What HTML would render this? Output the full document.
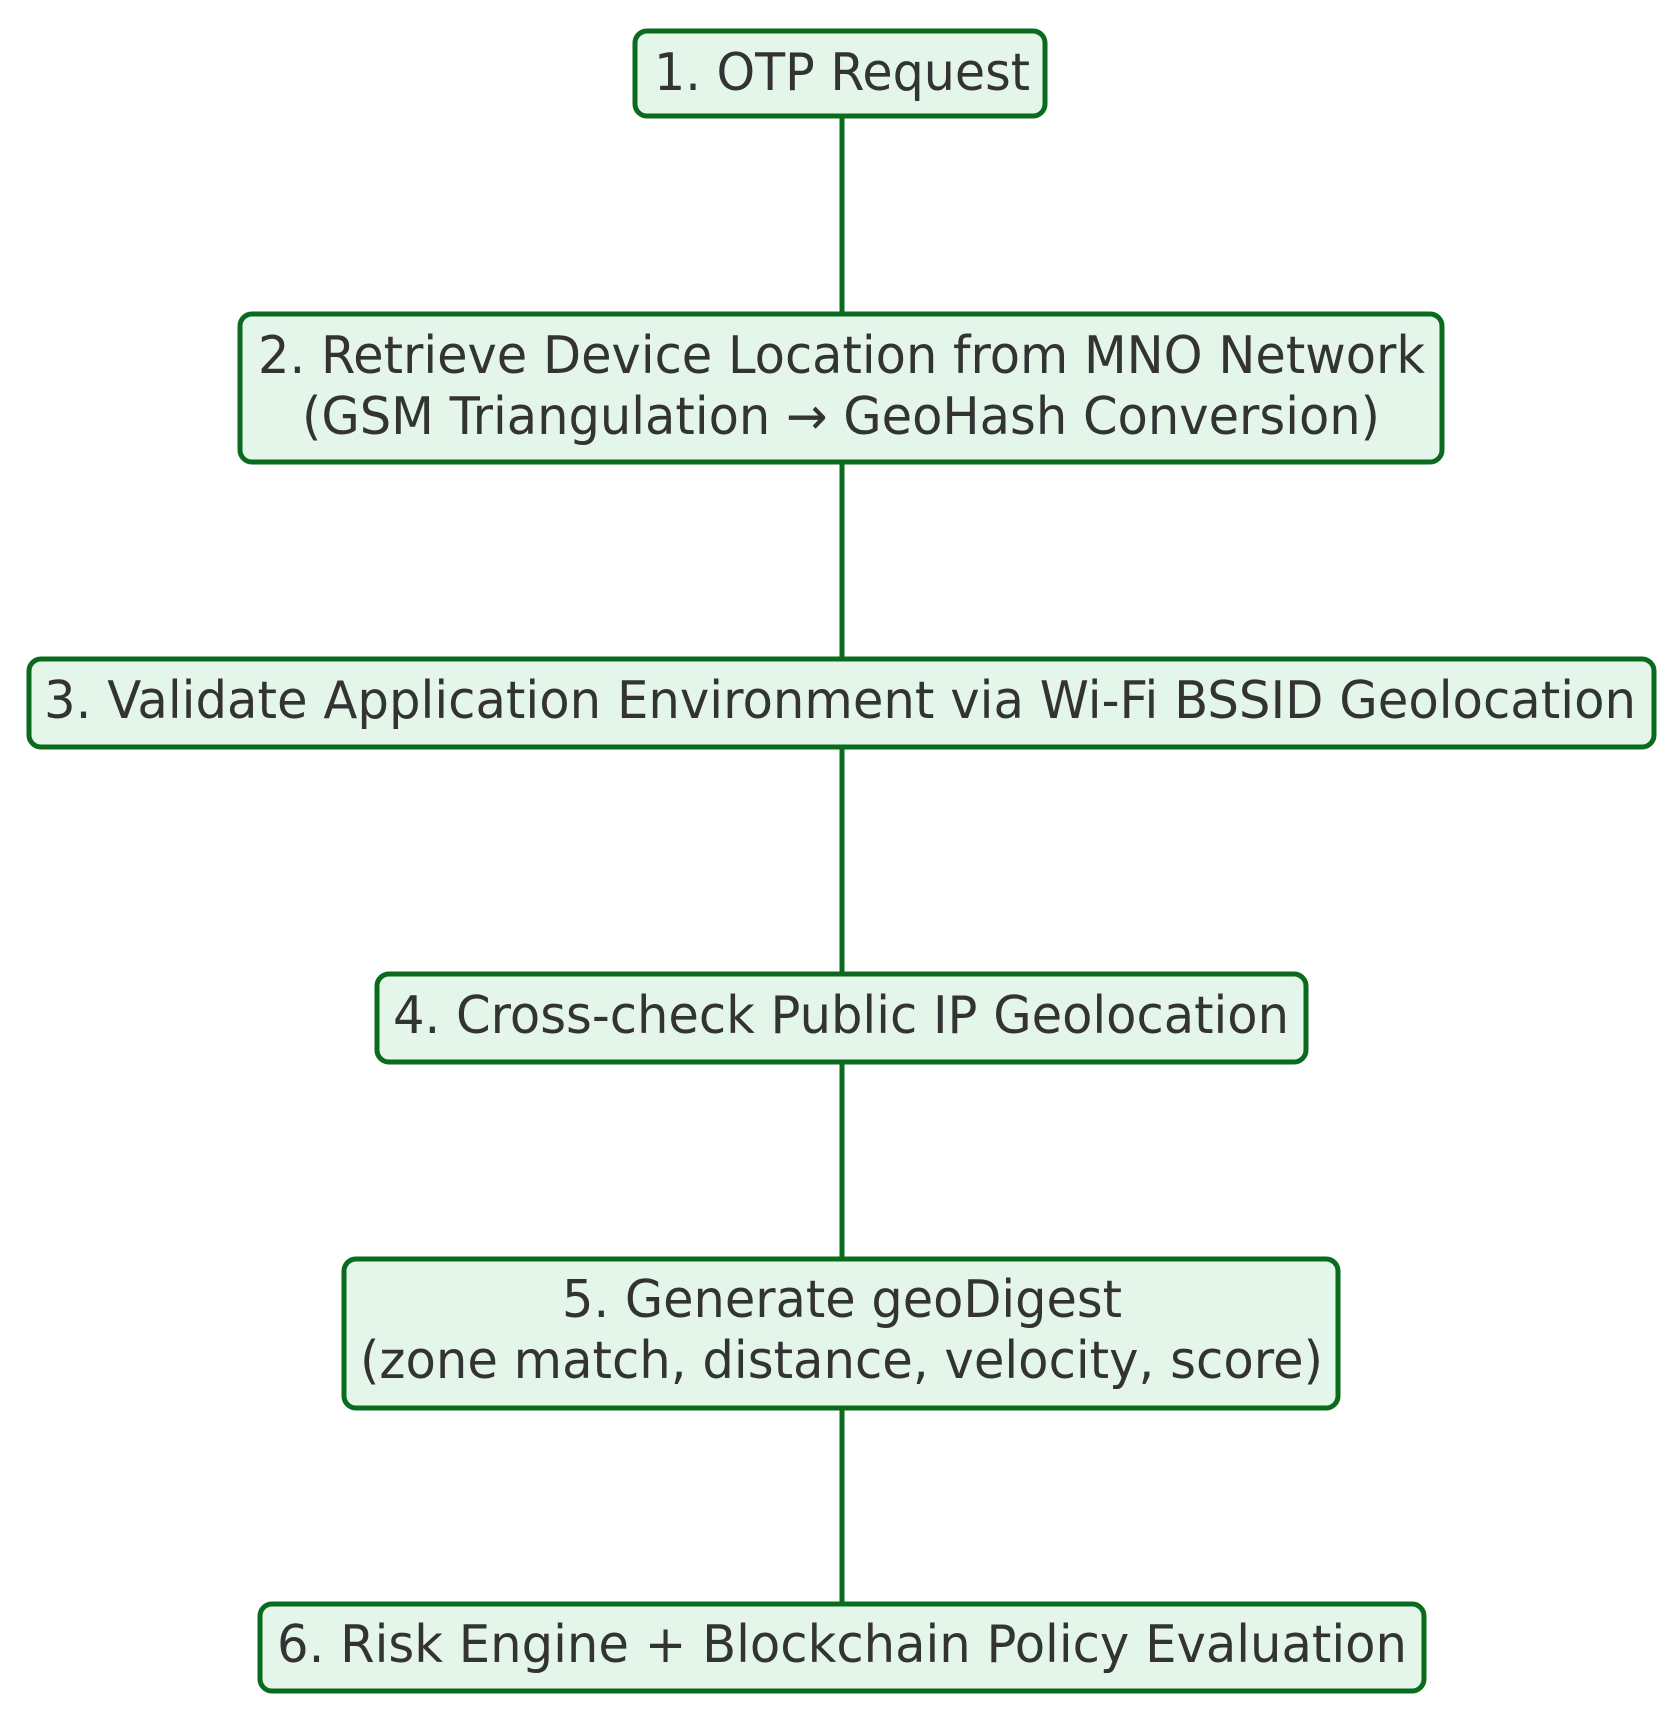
<!DOCTYPE html>
<html><head><meta charset="utf-8"><style>html,body{margin:0;padding:0;background:#fff}</style></head>
<body>
<svg width="1680" height="1717" viewBox="0 0 1680 1717" xmlns="http://www.w3.org/2000/svg" style="display:block">
<g stroke="#0a6a1e" stroke-width="5">
<line x1="842" y1="116" x2="842" y2="314"/>
<line x1="842" y1="462" x2="842" y2="660"/>
<line x1="842" y1="748" x2="842" y2="974"/>
<line x1="842" y1="1062" x2="842" y2="1259"/>
<line x1="842" y1="1408" x2="842" y2="1604"/>
</g>
<g fill="#e4f5e9" stroke="#0a6a1e" stroke-width="5">
<rect x="635" y="31" width="410" height="85" rx="12"/>
<rect x="240" y="314" width="1202" height="148" rx="12"/>
<rect x="29" y="659" width="1625" height="88" rx="12"/>
<rect x="377" y="974" width="929" height="88" rx="12"/>
<rect x="344" y="1259" width="994" height="149" rx="12"/>
<rect x="260" y="1604" width="1164" height="87" rx="12"/>
</g>
<g font-family="DejaVu Sans, Liberation Sans, sans-serif" font-size="52" fill="#333" lengthAdjust="spacingAndGlyphs">
<text x="654" y="90" textLength="376" lengthAdjust="spacingAndGlyphs">1. OTP Request</text>
<text x="258" y="373" textLength="1167" lengthAdjust="spacingAndGlyphs">2. Retrieve Device Location from MNO Network</text>
<text x="302" y="434" textLength="1078" lengthAdjust="spacingAndGlyphs">(GSM Triangulation → GeoHash Conversion)</text>
<text x="44" y="718" textLength="1592" lengthAdjust="spacingAndGlyphs">3. Validate Application Environment via Wi-Fi BSSID Geolocation</text>
<text x="393" y="1033" textLength="896" lengthAdjust="spacingAndGlyphs">4. Cross-check Public IP Geolocation</text>
<text x="562" y="1317" textLength="560" lengthAdjust="spacingAndGlyphs">5. Generate geoDigest</text>
<text x="360" y="1378" textLength="963" lengthAdjust="spacingAndGlyphs">(zone match, distance, velocity, score)</text>
<text x="277" y="1662" textLength="1130" lengthAdjust="spacingAndGlyphs">6. Risk Engine + Blockchain Policy Evaluation</text>
</g>
</svg>
</body></html>
